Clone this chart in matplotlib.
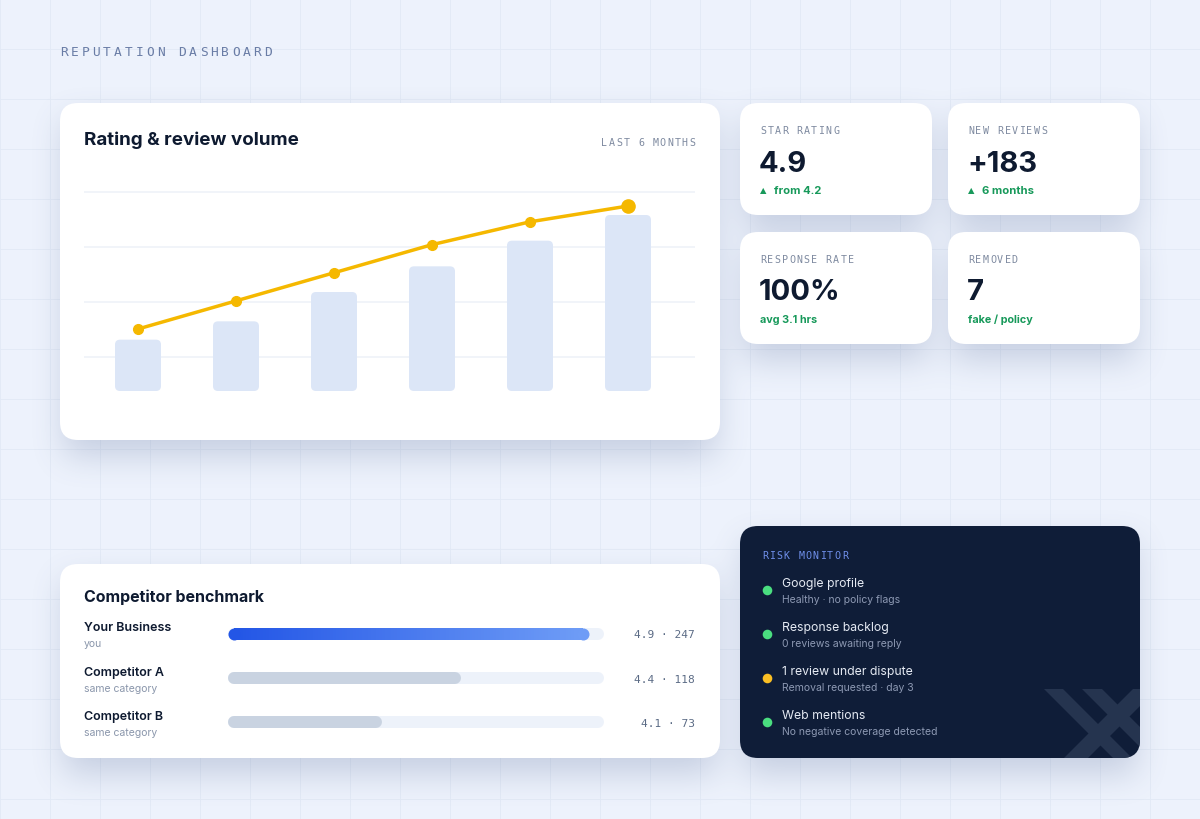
import numpy as np
import matplotlib
matplotlib.use('Agg')
import matplotlib.pyplot as plt
from matplotlib.patches import FancyBboxPatch, Polygon
from matplotlib.collections import LineCollection
from matplotlib.colors import to_rgb

# ---------------- data ----------------
month_index = [0, 1, 2, 3, 4, 5]
review_volume = [14, 19, 27, 34, 41, 48]
star_rating = [4.2, 4.36, 4.52, 4.68, 4.81, 4.9]

kpi_labels = ['STAR RATING', 'NEW REVIEWS', 'RESPONSE RATE', 'REMOVED']
kpi_values = ['4.9', '+183', '100%', '7']
kpi_notes = ['from 4.2', '6 months', 'avg 3.1 hrs', 'fake / policy']
kpi_arrows = [True, True, False, False]

comp_names = ['Your Business', 'Competitor A', 'Competitor B']
comp_subs = ['you', 'same category', 'same category']
comp_ratings = [4.9, 4.4, 4.1]
comp_reviews = [247, 118, 73]
comp_bar_pct = [96, 62, 41]

risk_titles = ['Google profile', 'Response backlog', '1 review under dispute', 'Web mentions']
risk_subs = ['Healthy · no policy flags', '0 reviews awaiting reply',
             'Removal requested · day 3', 'No negative coverage detected']
risk_status = ['ok', 'ok', 'warn', 'ok']

# ---------------- style ----------------
W, H = 1200, 820
SANS = ['Inter', 'DejaVu Sans']
MONO = 'DejaVu Sans Mono'
NAVY = '#0E1A30'
GREEN = '#17995A'

fig = plt.figure(figsize=(12, 8.2), dpi=100)
fig.patch.set_facecolor('#EDF2FC')
bg = fig.add_axes([0, 0, 1, 1])
bg.set_xlim(0, W); bg.set_ylim(H, 0); bg.axis('off')

# background grid
for gx in range(0, W + 1, 50):
    bg.plot([gx, gx], [0, H], color='#E2E9F6', lw=0.6, zorder=0)
for gy in range(0, H + 1, 50):
    bg.plot([0, W], [gy, gy], color='#E2E9F6', lw=0.6, zorder=0)

cards = {
    'chart': (60, 104, 720, 441),
    'k1': (740, 104, 932, 216), 'k2': (948, 104, 1140, 216),
    'k3': (740, 233, 932, 345), 'k4': (948, 233, 1140, 345),
    'comp': (60, 565, 720, 759),
    'risk': (740, 527, 1140, 759),
}

# soft shadows
def blur1d(a, r, axis):
    pad = [(0, 0), (0, 0)]
    pad[axis] = (r + 1, r)
    ap = np.pad(a, pad, mode='constant')
    c = np.cumsum(ap, axis=axis)
    if axis == 0:
        return (c[2 * r + 1:, :] - c[:-2 * r - 1, :]) / (2 * r + 1)
    return (c[:, 2 * r + 1:] - c[:, :-2 * r - 1]) / (2 * r + 1)

mask = np.zeros((H, W))
for (x0, y0, x1, y1) in cards.values():
    mask[y0 + 16:min(y1 + 16, H), x0 + 4:x1 - 4] = 1.0
for _ in range(3):
    mask = blur1d(mask, 15, 0)
    mask = blur1d(mask, 15, 1)
shadow = np.zeros((H, W, 4))
shadow[..., :3] = to_rgb('#4A5F8E')
shadow[..., 3] = np.clip(mask * 0.24, 0, 1)
bg.imshow(shadow, extent=(0, W, H, 0), zorder=1, interpolation='bilinear', aspect='auto')
bg.set_xlim(0, W); bg.set_ylim(H, 0)


def card(key, fc='white', r=18):
    x0, y0, x1, y1 = cards[key]
    p = FancyBboxPatch((x0, y0), x1 - x0, y1 - y0,
                       boxstyle=f'round,pad=0,rounding_size={r}',
                       fc=fc, ec='none', zorder=2)
    bg.add_patch(p)
    return p


def spaced(x, y, s, size, adv, color, ha='left', weight='normal'):
    em = size * 100 / 72
    cw = 0.602 * em
    total = (len(s) - 1) * adv + cw
    x0 = x if ha == 'left' else x - total
    for i, ch in enumerate(s):
        if ch == ' ':
            continue
        bg.text(x0 + i * adv + cw / 2, y, ch, ha='center', va='center',
                fontsize=size, family=MONO, color=color, weight=weight, zorder=5)


def px_axes(x0, y0, x1, y1):
    a = fig.add_axes([x0 / W, 1 - y1 / H, (x1 - x0) / W, (y1 - y0) / H])
    a.patch.set_alpha(0)
    for s in a.spines.values():
        s.set_visible(False)
    a.tick_params(length=0, labelbottom=False, labelleft=False,
                  labelright=False, labeltop=False)
    return a

for k in cards:
    if k != 'risk':
        card(k)
risk_patch = card('risk', fc='#0F1D38')

# header
spaced(60, 53, 'REPUTATION DASHBOARD', 9.3, 10.75, '#6A7DA6')

# ---------------- main chart ----------------
bg.text(84, 140, 'Rating & review volume', fontsize=13.5, weight='bold',
        family=SANS, color=NAVY, va='center', zorder=5)
spaced(695, 143, 'LAST 6 MONTHS', 7.2, 7.3, '#7E8AA0', ha='right')

AX0, AY0, AX1, AY1 = 84, 172, 695, 392
ax = px_axes(AX0, AY0, AX1, AY1)
ax.set_zorder(3)
xl = (-54 / 98, 5 + 67 / 98)
ax.set_xlim(*xl)
ax.set_ylim(0, 60)
ax.set_yticks([9.3, 24.3, 39.3, 54.3])
ax.set_xticks([])
ax.grid(axis='y', color='#F0F3F9', lw=1.3)
ax.set_axisbelow(True)

bars = ax.bar(month_index, review_volume, width=46 / 98, color='#DCE6F7')
px_per_x = (AX1 - AX0) / (xl[1] - xl[0])
px_per_y = (AY1 - AY0) / 60
rr = 5 / px_per_x
for b in bars:
    bx, by = b.get_xy()
    bw, bh = b.get_width(), b.get_height()
    b.set_visible(False)
    ax.add_patch(FancyBboxPatch((bx, by), bw, bh,
                                boxstyle=f'round,pad=0,rounding_size={rr}',
                                mutation_aspect=px_per_x / px_per_y,
                                fc='#DCE6F7', ec='none', zorder=2))

ax2 = ax.twinx()
for s in ax2.spines.values():
    s.set_visible(False)
ax2.tick_params(length=0, labelright=False)
ax2.set_ylim(4.2 - 62 / 175.7, 4.9 + 35 / 175.7)
ax2.plot(month_index, star_rating, color='#F5B800', lw=2.5, marker='o',
         ms=7, zorder=4, clip_on=False)
ax2.plot(month_index[-1:], star_rating[-1:], 'o', color='#F5B800', ms=9.5,
         zorder=5, clip_on=False)

# ---------------- KPI cards ----------------
kpi_keys = ['k1', 'k2', 'k3', 'k4']
for key, lab, val, note, arr in zip(kpi_keys, kpi_labels, kpi_values, kpi_notes, kpi_arrows):
    x0, y0, _, _ = cards[key]
    tx = x0 + 20
    spaced(tx, y0 + 27, lab, 7.2, 7.3, '#7E8AA0')
    bg.text(tx - 1, y0 + 60, val, fontsize=21, weight='bold', family=SANS,
            color=NAVY, va='center', zorder=5)
    if arr:
        bg.text(tx, y0 + 87, '▲', fontsize=6, family=['DejaVu Sans'],
                color=GREEN, va='center', zorder=5)
        bg.text(tx + 14, y0 + 87, note, fontsize=8.1, weight='bold',
                family=SANS, color=GREEN, va='center', zorder=5)
    else:
        bg.text(tx, y0 + 87, note, fontsize=7.8, weight='bold',
                family=SANS, color=GREEN, va='center', zorder=5)

# ---------------- competitor benchmark ----------------
bg.text(84, 597, 'Competitor benchmark', fontsize=11.5, weight='bold',
        family=SANS, color=NAVY, va='center', zorder=5)

CX0, CY0, CX1, CY1 = 228, 610, 604, 745
cx = px_axes(CX0, CY0, CX1, CY1)
cx.set_zorder(3)
cx.set_xlim(0, 100)
row_gap = 44.25
cx.set_ylim(2 + (CY1 - 723) / row_gap, -(634.5 - CY0) / row_gap)
cpx = (CX1 - CX0) / 100
bar_lw_px = 12
cap = (bar_lw_px / 2) / cpx
lw_pt = bar_lw_px * 72 / 100
rows = list(range(len(comp_names)))
for i in rows:
    cx.plot([cap, 100 - cap], [i, i], color='#EDF2FA', lw=lw_pt,
            solid_capstyle='round', zorder=2, clip_on=False)
c_start = np.array(to_rgb('#2356E6'))
c_end = np.array(to_rgb('#6E9CF6'))
for i, pct in zip(rows, comp_bar_pct):
    if i == 0:
        n = 120
        xs = np.linspace(cap, pct - cap, n + 1)
        segs = [[(xs[j], i), (xs[j + 1], i)] for j in range(n)]
        cols = [tuple(c_start + (c_end - c_start) * (j / (n - 1))) for j in range(n)]
        lc = LineCollection(segs, colors=cols, linewidths=lw_pt, capstyle='butt',
                            zorder=3, clip_on=False)
        cx.add_collection(lc)
        cx.plot([cap], [i], 'o', ms=lw_pt, color=tuple(c_start), mew=0, zorder=3, clip_on=False)
        cx.plot([pct - cap], [i], 'o', ms=lw_pt, color=tuple(c_end), mew=0, zorder=3, clip_on=False)
    else:
        cx.plot([cap, pct - cap], [i, i], color='#C9D3E1', lw=lw_pt,
                solid_capstyle='round', zorder=3, clip_on=False)

for i, (nm, sb, rt, rv) in enumerate(zip(comp_names, comp_subs, comp_ratings, comp_reviews)):
    yc = 634.5 + i * row_gap
    bg.text(84, yc - 6, nm, fontsize=9, weight='semibold', family=SANS,
            color=NAVY, va='center', zorder=5)
    bg.text(84, yc + 10, sb, fontsize=7.5, family=SANS, color='#8A96AB',
            va='center', zorder=5)
    bg.text(695, yc + 1, f'{rt} · {rv}', fontsize=8, family=MONO, color='#5B6B85',
            ha='right', va='center', zorder=5)

# ---------------- risk monitor ----------------
deco = [
    [(1044, 690), (1063, 690), (1143, 770), (1124, 770)],
    [(1082, 690), (1102, 690), (1182, 770), (1162, 770)],
    [(1053, 770), (1077, 770), (1157, 690), (1133, 690)],
]
for poly in deco:
    pg = Polygon(poly, closed=True, fc='#25344F', ec='none', zorder=3)
    bg.add_patch(pg)
    pg.set_clip_path(risk_patch)

spaced(762, 556, 'RISK MONITOR', 7.2, 7.25, '#6F8FEA')
status_col = {'ok': '#4ADE80', 'warn': '#FBBF24'}
for i, (t, s, st) in enumerate(zip(risk_titles, risk_subs, risk_status)):
    yt = 584 + i * 44
    bg.scatter([767], [yt + 7], s=48, color=status_col[st], zorder=5, lw=0)
    bg.text(782, yt, t, fontsize=8.8, family=SANS, color='#E5EAF3',
            va='center', zorder=5)
    bg.text(782, yt + 16, s, fontsize=7.5, family=SANS, color='#8D99B3',
            va='center', zorder=5)

fig.savefig('out.png', dpi=100, facecolor=fig.get_facecolor())
